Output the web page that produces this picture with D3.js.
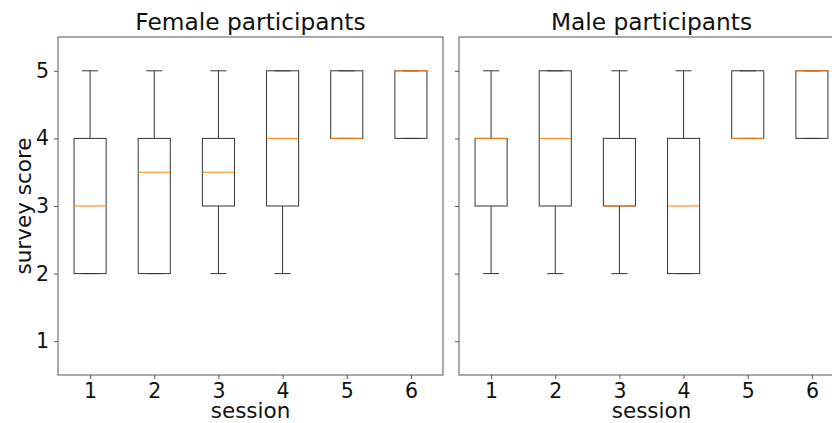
<!DOCTYPE html>
<html>
<head>
<meta charset="utf-8">
<script src="https://cdn.jsdelivr.net/npm/d3@7"></script>
<style>
    body { margin: 0; background: #fff; }
    svg { display: block; font-family: 'DejaVu Sans', sans-serif; }
</style>
</head>
<body>
<svg id="chart" width="832" height="423"></svg>
<script>
// session numbers on the x axis
const sessions = [1, 2, 3, 4, 5, 6];
const yTicks = [1, 2, 3, 4, 5];

// Female participants: box stats per session
const femaleLow = [2, 2, 2, 2, 4, 4];
const femaleQ1 = [2, 2, 3, 3, 4, 4];
const femaleMedian = [3, 3.5, 3.5, 4, 4, 5];
const femaleQ3 = [4, 4, 4, 5, 5, 5];
const femaleHigh = [5, 5, 5, 5, 5, 5];

// Male participants
const maleLow = [2, 2, 2, 2, 4, 4];
const maleQ1 = [3, 3, 3, 2, 4, 4];
const maleMedian = [4, 4, 3, 3, 4, 5];
const maleQ3 = [4, 5, 4, 4, 5, 5];
const maleHigh = [5, 5, 5, 5, 5, 5];

const panels = [
    { title: 'Female participants', left: 58, low: femaleLow, q1: femaleQ1, med: femaleMedian, q3: femaleQ3, high: femaleHigh, yLabels: true },
    { title: 'Male participants', left: 459, low: maleLow, q1: maleQ1, med: maleMedian, q3: maleQ3, high: maleHigh, yLabels: false }
];

const plotTop = 37;
const panelW = 385;
const panelH = 338;

const x = d3.scaleLinear().domain([0.5, 6.5]).range([0, panelW]);
const y = d3.scaleLinear().domain([0.5, 5.5]).range([panelH, 0]);

const svg = d3.select('#chart');
const boxHalf = x(1.25) - x(1);
const capHalf = x(1.125) - x(1);
const lineColor = '#333';

panels.forEach(p => {
    const g = svg.append('g').attr('transform', `translate(${p.left},${plotTop})`);

    const rows = sessions.map((s, i) => ({
        s: s, low: p.low[i], q1: p.q1[i], med: p.med[i], q3: p.q3[i], high: p.high[i]
    }));

    const box = g.selectAll('.box')
        .data(rows)
        .enter().append('g')
        .attr('class', 'box');

    // whiskers
    box.append('line')
        .attr('x1', d => x(d.s)).attr('x2', d => x(d.s))
        .attr('y1', d => y(d.q3)).attr('y2', d => y(d.high))
        .attr('stroke', lineColor);
    box.append('line')
        .attr('x1', d => x(d.s)).attr('x2', d => x(d.s))
        .attr('y1', d => y(d.q1)).attr('y2', d => y(d.low))
        .attr('stroke', lineColor);

    // caps
    box.append('line')
        .attr('x1', d => x(d.s) - capHalf).attr('x2', d => x(d.s) + capHalf)
        .attr('y1', d => y(d.high)).attr('y2', d => y(d.high))
        .attr('stroke', lineColor);
    box.append('line')
        .attr('x1', d => x(d.s) - capHalf).attr('x2', d => x(d.s) + capHalf)
        .attr('y1', d => y(d.low)).attr('y2', d => y(d.low))
        .attr('stroke', lineColor);

    // box
    box.append('rect')
        .attr('x', d => x(d.s) - boxHalf)
        .attr('width', boxHalf * 2)
        .attr('y', d => y(d.q3))
        .attr('height', d => y(d.q1) - y(d.q3))
        .attr('fill', 'none')
        .attr('stroke', lineColor);

    // median
    box.append('line')
        .attr('x1', d => x(d.s) - boxHalf).attr('x2', d => x(d.s) + boxHalf)
        .attr('y1', d => y(d.med)).attr('y2', d => y(d.med))
        .attr('stroke', '#ff7f0e');

    // frame
    g.append('rect')
        .attr('width', panelW).attr('height', panelH)
        .attr('fill', 'none').attr('stroke', '#555');

    // axes
    const xAxis = g.append('g')
        .attr('transform', `translate(0,${panelH})`)
        .call(d3.axisBottom(x).tickValues(sessions).tickSize(4).tickPadding(4).tickFormat(d3.format('d')));
    const yAxis = g.append('g')
        .call(d3.axisLeft(y).tickValues(yTicks).tickSize(4).tickPadding(5)
            .tickFormat(p.yLabels ? d3.format('d') : () => ''));

    [xAxis, yAxis].forEach(a => {
        a.select('.domain').remove();
        a.selectAll('line').attr('stroke', '#555');
        a.selectAll('text').attr('font-size', 20.5).attr('fill', '#111')
            .attr('font-family', "'DejaVu Sans', sans-serif");
    });

    g.append('text')
        .attr('x', panelW / 2).attr('y', -7)
        .attr('text-anchor', 'middle')
        .attr('font-size', 23.3).attr('fill', '#111')
        .text(p.title);

    g.append('text')
        .attr('x', x(3.5)).attr('y', panelH + 43)
        .attr('text-anchor', 'middle')
        .attr('font-size', 21.5).attr('fill', '#111')
        .text('session');

    if (p.yLabels) {
        g.append('text')
            .attr('transform', `translate(${-27},${panelH / 2}) rotate(-90)`)
            .attr('text-anchor', 'middle')
            .attr('font-size', 21.5).attr('fill', '#111')
            .text('survey score');
    }
});
</script>
</body>
</html>
